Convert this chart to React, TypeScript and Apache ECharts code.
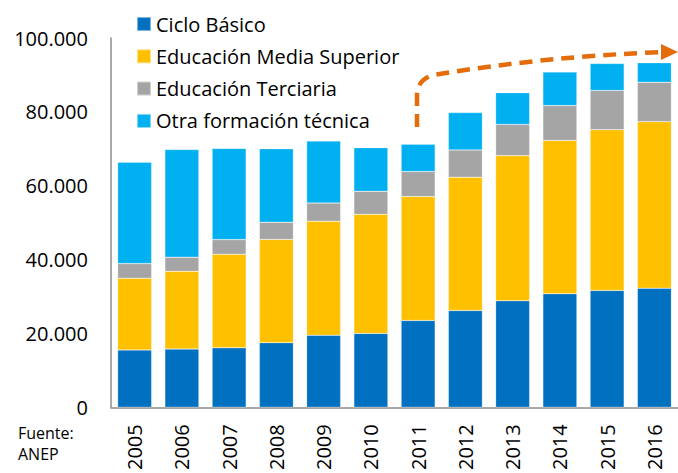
import React, { useEffect, useRef } from "react";
import * as echarts from "echarts";

const years = ["2005", "2006", "2007", "2008", "2009", "2010", "2011", "2012", "2013", "2014", "2015", "2016"];
const cicloBasico = [15500, 15750, 16100, 17500, 19500, 20000, 23500, 26200, 28850, 30750, 31650, 32250];
const mediaSuperior = [19450, 21050, 25350, 27950, 30900, 32250, 33550, 36100, 39300, 41500, 43500, 45100];
const terciaria = [3950, 3850, 3950, 4650, 4900, 6250, 6800, 7400, 8450, 9450, 10650, 10650];
const otraFormacion = [27450, 29150, 24700, 19900, 16800, 11800, 7400, 10100, 8600, 9100, 7300, 5300];
const seriesNames = ["Ciclo Básico", "Educación Media Superior", "Educación Terciaria", "Otra formación técnica"];
const seriesColors = ["#0070C0", "#FFC000", "#A5A5A5", "#00B0F0"];
const yTicks = [0, 20000, 40000, 60000, 80000, 100000];

const FONT = "'Open Sans', 'Noto Sans', sans-serif";

const fmt = (v: number) => String(Math.round(v)).replace(/\B(?=(\d{3})+(?!\d))/g, ".");

export default function App() {
  const ref = useRef<HTMLDivElement>(null);
  useEffect(() => {
    if (!ref.current) return;
    echarts.graphic.registerShape(
      "trendArrow",
      echarts.graphic.extendPath("M417,127 L417,96 Q417,79 434,75 Q540,57 662,52", {})
    );
    const chart = echarts.init(ref.current, null, { renderer: "svg" });
    const all = [cicloBasico, mediaSuperior, terciaria, otraFormacion];
    chart.setOption({
      animation: false,
      textStyle: { fontFamily: FONT },
      grid: { left: 111, top: 38, width: 577, bottom: 61.5, containLabel: false },
      legend: {
        orient: "vertical",
        left: 131,
        top: 9,
        itemWidth: 14,
        itemHeight: 14,
        itemGap: 12.3,
        icon: "rect",
        data: seriesNames,
        textStyle: { fontSize: 20, lineHeight: 20, color: "#000", fontFamily: FONT },
      },
      xAxis: {
        type: "category",
        data: years,
        axisLine: { lineStyle: { color: "#8C8C8C", width: 1.5 } },
        axisTick: { show: false },
        axisLabel: { rotate: 90, fontSize: 20, color: "#000", margin: 17, fontFamily: FONT },
      },
      yAxis: {
        type: "value",
        min: yTicks[0],
        max: yTicks[yTicks.length - 1],
        interval: yTicks[1] - yTicks[0],
        axisLine: { show: true, lineStyle: { color: "#8C8C8C", width: 1.5 } },
        axisTick: { show: false },
        splitLine: { show: false },
        axisLabel: { fontSize: 20, color: "#000", margin: 23, formatter: fmt, fontFamily: FONT },
      },
      series: seriesNames.map((name, i) => ({
        name,
        type: "bar",
        stack: "total",
        barWidth: 34,
        data: all[i],
        itemStyle: { color: seriesColors[i], borderColor: "rgba(255,255,255,0.5)", borderWidth: 0.5 },
      })),
      graphic: [
        {
          type: "text",
          left: 18,
          top: 425,
          style: { text: "Fuente:", fontSize: 16, fill: "#000", fontFamily: FONT },
        },
        {
          type: "text",
          left: 18,
          top: 446,
          style: { text: "ANEP", fontSize: 16, fill: "#000", fontFamily: FONT },
        },
        {
          type: "trendArrow",
          x: 0,
          y: 0,
          style: { fill: null, stroke: "#E46C0A", lineWidth: 4.5, lineDash: [13, 8] },
        },
        {
          type: "polygon",
          shape: { points: [[661, 44], [678, 52], [661, 60]] },
          style: { fill: "#E46C0A" },
        },
      ],
    });
    return () => chart.dispose();
  }, []);
  return <div ref={ref} style={{ width: 678, height: 473, position: "absolute", left: 0, top: 0 }} />;
}
